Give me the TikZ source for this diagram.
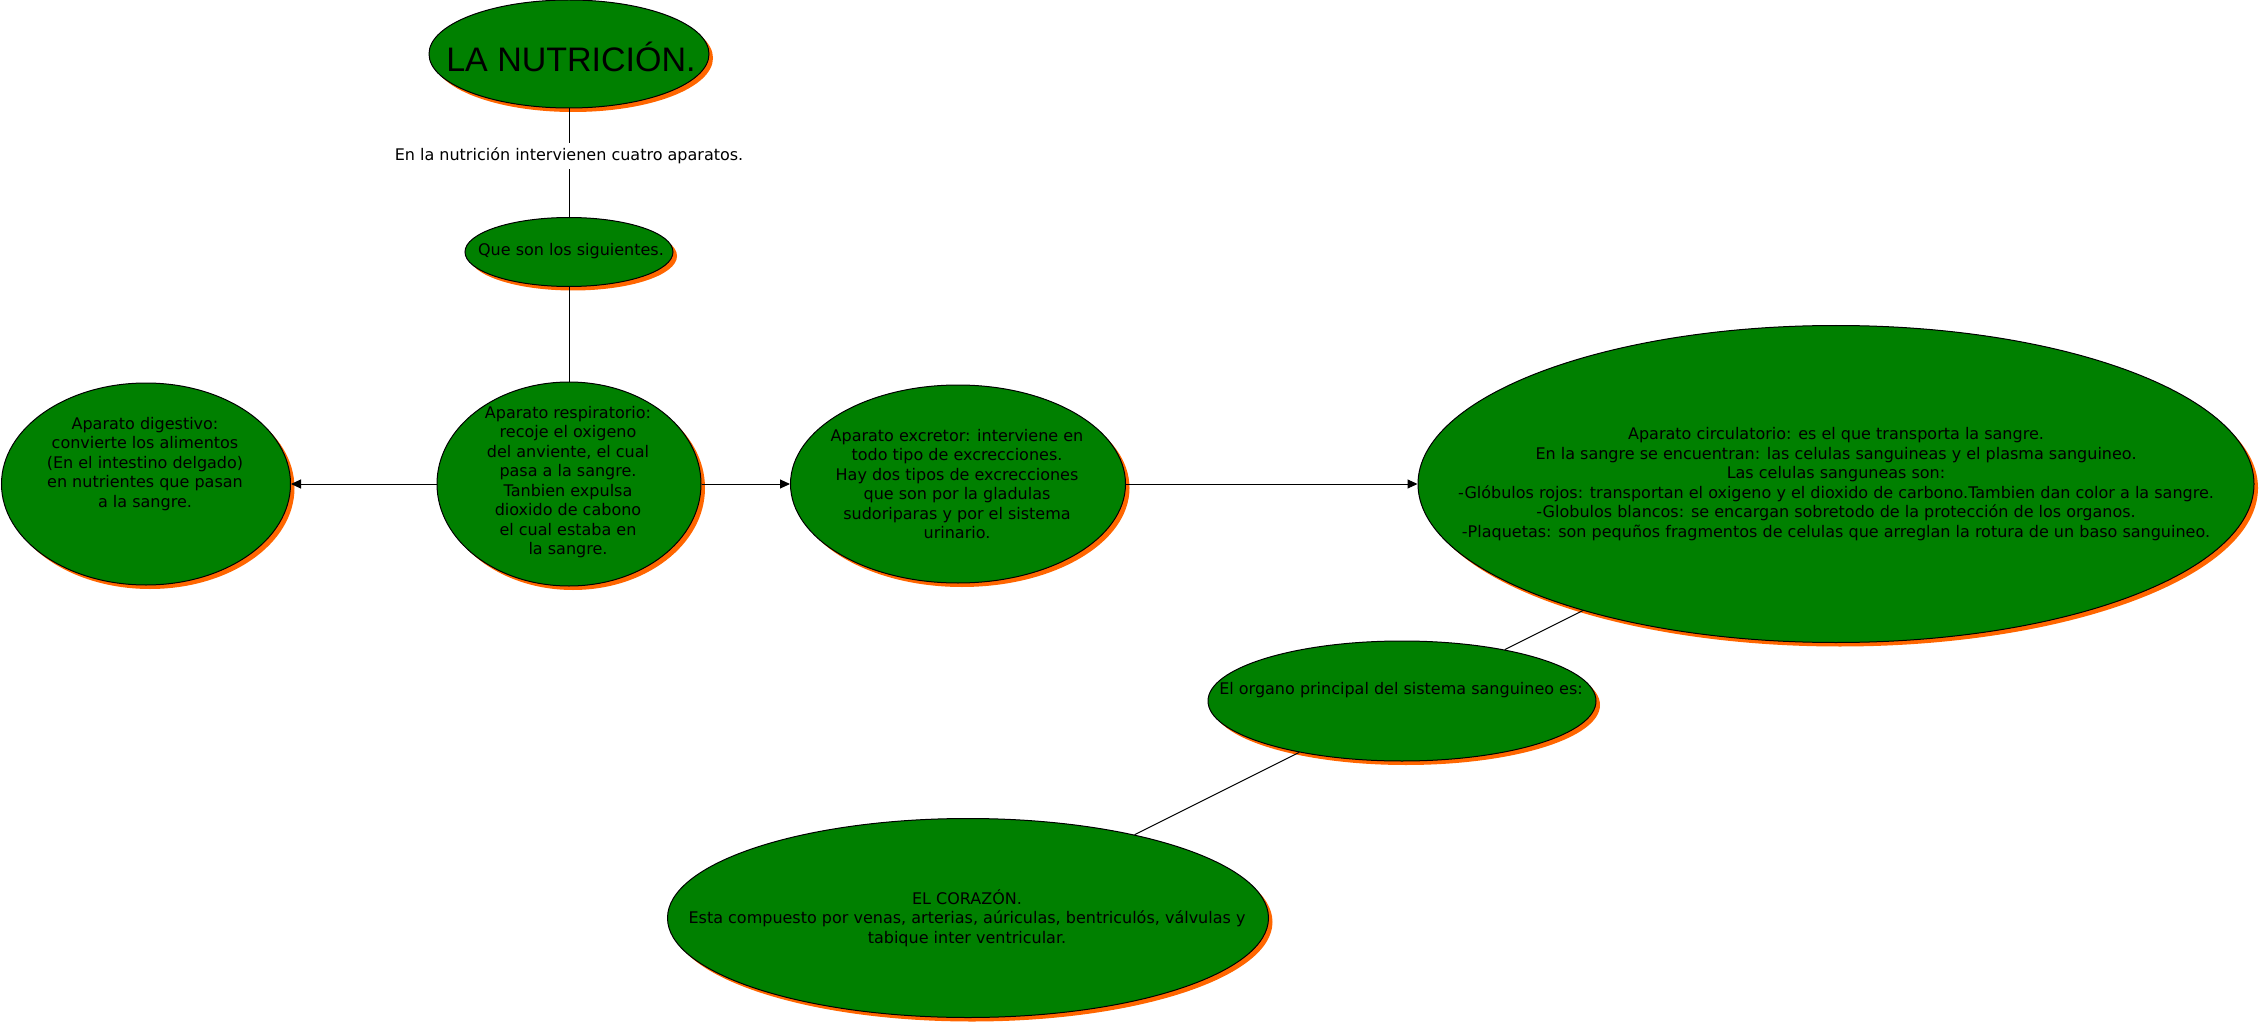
\documentclass[tikz,border=0pt]{standalone}
\usepackage{fontspec}
\setmainfont{DejaVu Sans}
\newfontfamily\titlefont{Liberation Sans}
\usepackage{tikz}
\usetikzlibrary{positioning,arrows.meta,shapes.geometric,shadows}
\definecolor{bubblegreen}{RGB}{0,128,0}
\definecolor{shadoworange}{RGB}{255,102,0}
\tikzset{
  bubble/.style={ellipse,draw=black,line width=1pt,fill=bubblegreen,inner sep=0pt,
    drop shadow={shadow xshift=4pt,shadow yshift=-4pt,fill=shadoworange,opacity=1}},
  bubbletext/.style={align=center,inner sep=0pt,font=\fontsize{16}{19.5}\selectfont},
  link/.style={line width=1pt},
  flow/.style={line width=1pt,-{Triangle[length=10pt,width=9pt]}}
}

\begin{document}
\begin{tikzpicture}[x=1pt,y=-1pt]
\useasboundingbox (0,0) rectangle (2260,1024);
% ---- title, intro and first question ----
\node[bubble,minimum width=280,minimum height=108] (title) at (569,54) {};
\node[inner sep=0pt] (titletext) at (571,57) {\titlefont\fontsize{34}{40}\selectfont LA NUTRICIÓN.};
\node[bubbletext,inner sep=5pt] (intro) at (569,156) {En la nutrición intervienen cuatro aparatos.};
\node[bubble,minimum width=208,minimum height=69] (queson) at (569,252) {};
\node[bubbletext] (quesontext) at (571,251) {Que son los siguientes.};
% ---- the four aparatos, y=484 ----
\node[bubble,minimum width=289,minimum height=202] (dig) at (146,484) {};
\node[bubbletext] (digtext) at (145,464) {Aparato digestivo:\\ convierte los alimentos\\ (En el intestino delgado)\\ en nutrientes que pasan\\ a la sangre.};
\node[bubble,minimum width=264,minimum height=204] (resp) at (569,484) {};
\node[bubbletext] (resptext) at (568,482) {Aparato respiratorio:\\ recoje el oxigeno\\ del anviente, el cual\\ pasa a la sangre.\\ Tanbien expulsa\\ dioxido de cabono\\ el cual estaba en\\ la sangre.};
\node[bubble,minimum width=335,minimum height=198] (exc) at (958,484) {};
\node[bubbletext] (exctext) at (957,484) {Aparato excretor: interviene en\\ todo tipo de excrecciones.\\ Hay dos tipos de excrecciones\\ que son por la gladulas\\ sudoriparas y por el sistema\\ urinario.};
\node[bubble,minimum width=836,minimum height=317] (circ) at (1836,484) {};
\node[bubbletext] (circtext) at (1836,484) {Aparato circulatorio: es el que transporta la sangre.\\
  En la sangre se encuentran: las celulas sanguineas y el plasma sanguineo.\\
  Las celulas sanguneas son:\\
  -Glóbulos rojos: transportan el oxigeno y el dioxido de carbono.Tambien dan color a la sangre.\\
  -Globulos blancos: se encargan sobretodo de la protección de los organos.\\
  -Plaquetas: son pequños fragmentos de celulas que arreglan la rotura de un baso sanguineo.};
% ---- organo principal and heart ----
\node[bubble,minimum width=388,minimum height=120] (organo) at (1402,701) {};
\node[bubbletext] (organotext) at (1401,690) {El organo principal del sistema sanguineo es:};
\node[bubble,minimum width=601,minimum height=199] (corazon) at (968,918) {};
\node[bubbletext] (corazontext) at (967,918) {EL CORAZÓN.\\ Esta compuesto por venas, arterias, aúriculas, bentriculós, válvulas y\\ tabique inter ventricular.};
% ---- connectors ----
\draw[link] (title) -- (intro);
\draw[link] (intro) -- (queson);
\draw[link] (queson) -- (resp);
\draw[flow] (resp) -- (dig);
\draw[flow] (resp) -- (exc);
\draw[flow] (exc) -- (circ);
\draw[link] (circ) -- (organo);
\draw[link] (organo) -- (corazon);
\end{tikzpicture}
\end{document}
